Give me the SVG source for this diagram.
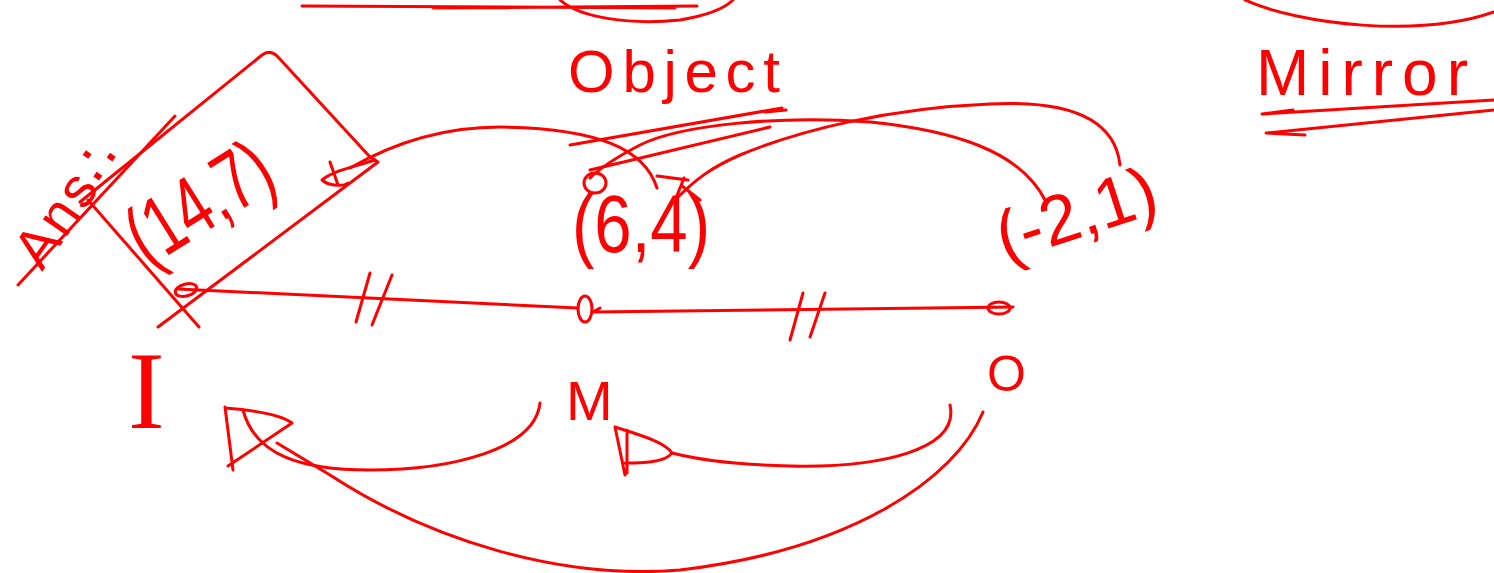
<svg xmlns="http://www.w3.org/2000/svg" width="1494" height="573" viewBox="0 0 1494 573">
<style>
.s{fill:none;stroke:#ff0000;stroke-width:3;stroke-linecap:round;stroke-linejoin:round}
.t{fill:#ff0000;font-family:"Liberation Sans","DejaVu Sans",sans-serif}
.ts{fill:#ff0000;font-family:"Liberation Serif","DejaVu Serif",serif}
</style>
<rect width="1494" height="573" fill="#ffffff"/>
<g id="top-strokes">
<path class="s" d="M302 6 L675 8 M433 8 L697 6 M560 0 C580 18 630 25 680 20 C710 15 725 8 733 0"/>
<path class="s" d="M1245 0 C1300 25 1420 38 1494 12"/>
</g>
<g id="title-object">
<text class="t" x="568" y="92" font-size="60" textLength="212" lengthAdjust="spacing">Object</text>
<path class="s" d="M570 145 L782 108 M765 112 L786 110 M590 170 L770 127"/>
</g>
<g id="title-mirror">
<text class="t" x="1256" y="95" font-size="64" textLength="212" lengthAdjust="spacing">Mirror</text>
<path class="s" d="M1263 114 L1494 100 M1262 114 L1293 110 M1268 133 L1494 110 M1266 133 L1305 135"/>
</g>
<g id="answer">
<text class="t" transform="rotate(-55 42 272)" x="42" y="272" font-size="56" textLength="140" lengthAdjust="spacing">Ans∴</text>
<path class="s" d="M18 285 L175 116"/>
<path class="s" d="M80 202 L262 55 Q270 49 278 57 L370 157 L378 162 L158 327 M88 200 L199 327"/>
</g>
<g id="node-image">
<text class="t" transform="rotate(-32 148 268)" x="148" y="268" font-size="84" textLength="156" lengthAdjust="spacingAndGlyphs">(14,7)</text>
<ellipse class="s" cx="186" cy="290" rx="11" ry="6" transform="rotate(-15 186 290)"/>
<text class="ts" x="128" y="428" font-size="110">I</text>
</g>
<g id="node-mirror-point">
<ellipse class="s" cx="585" cy="309" rx="7" ry="13"/>
<text class="t" x="566" y="420" font-size="56">M</text>
</g>
<g id="node-object">
<text class="t" x="572" y="252" font-size="82" textLength="138" lengthAdjust="spacingAndGlyphs">(6,4)</text>
<ellipse class="s" cx="595" cy="183" rx="11" ry="10"/>
</g>
<g id="node-object-2">
<text class="t" transform="rotate(-18 1005 262)" x="1005" y="262" font-size="70" textLength="165" lengthAdjust="spacingAndGlyphs">(-2,1)</text>
<ellipse class="s" cx="999" cy="308" rx="11" ry="6"/>
<text class="t" x="987" y="391" font-size="50">O</text>
</g>
<g id="connectors">
<path class="s" d="M178 289 L578 308"/>
<path class="s" d="M356 322 L370 273 M372 325 L392 275"/>
<path class="s" d="M593 312 L1013 307 M593 312 L600 308"/>
<path class="s" d="M790 340 L803 293 M810 337 L825 293"/>
<path class="s" d="M657 188 C645 150 600 128 500 127 C440 127 390 145 350 168"/>
<path class="s" d="M375 160 C350 168 330 172 322 180 C330 187 345 186 348 183 M330 162 L338 185"/>
<path class="s" d="M1045 200 C1020 150 950 130 870 122 C780 115 680 125 640 145 C615 158 600 168 590 178"/>
<path class="s" d="M1120 165 C1115 120 1070 100 990 104 C890 108 800 130 740 155 C710 168 695 180 675 200 M657 176 L688 180 M684 178 L676 198 M682 186 L700 200"/>
<path class="s" d="M540 403 C535 450 450 470 370 470 C300 470 255 455 243 410"/>
<path class="s" d="M225 407 L233 470 M225 408 C250 410 280 414 292 423 L228 466"/>
<path class="s" d="M983 412 C955 480 850 550 680 570 C560 580 430 540 330 475 L277 443"/>
<path class="s" d="M950 405 C960 450 880 468 790 466 C740 465 700 460 672 453"/>
<path class="s" d="M615 427 C640 435 665 442 672 453 C665 463 640 463 625 463 M615 427 L625 475 M627 430 L627 473"/>
</g>
</svg>
